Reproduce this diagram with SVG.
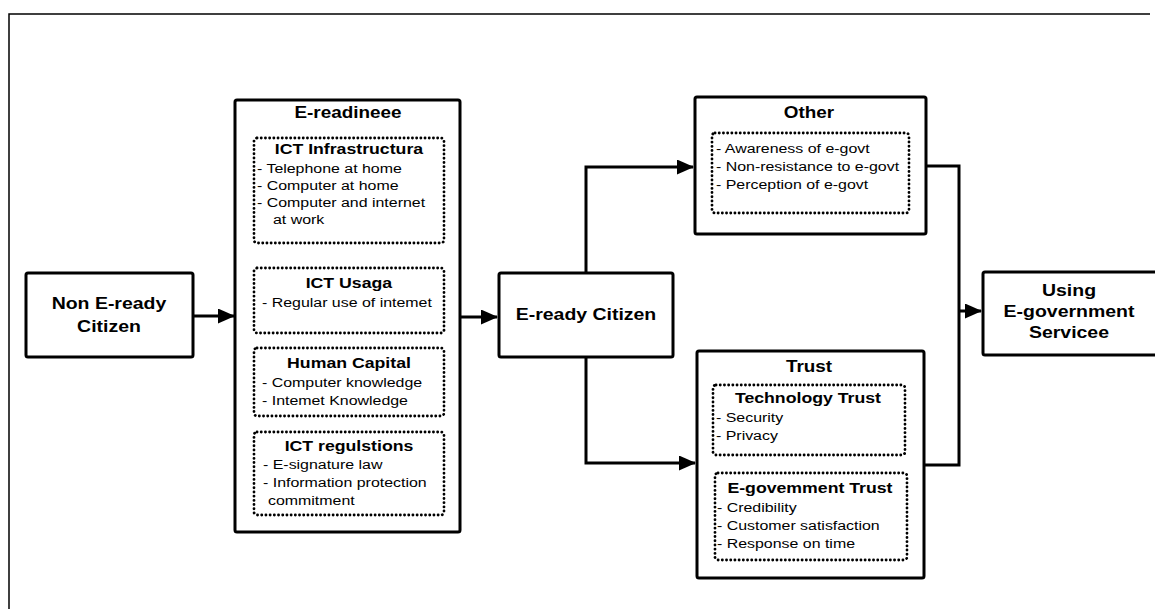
<svg xmlns="http://www.w3.org/2000/svg" width="1155" height="609" viewBox="0 0 1155 609">
  <style>
    text { font-family: "Liberation Sans", Arial, Helvetica, sans-serif; fill: #000; transform-box: fill-box; }
    .c { text-anchor: middle; transform-origin: center; transform: scaleX(1.18); }
    .l { text-anchor: start; transform-origin: left center; transform: scaleX(1.18); }
    .node { font-size: 16.5px; font-weight: bold; }
    .head { font-size: 16px; font-weight: bold; }
    .ttl { font-size: 15px; font-weight: bold; }
    .item { font-size: 13.5px; }
    .box { fill: #fff; stroke: #000; stroke-width: 3; }
    .sub { fill: none; stroke: #000; stroke-width: 2.8; stroke-dasharray: 0.1 4.1; stroke-linecap: round; }
    .wire { fill: none; stroke: #000; stroke-width: 3; }
    .frame { fill: none; stroke: #000; stroke-width: 1.5; }
  </style>
  <defs>
    <marker id="arr" viewBox="0 0 17 15" refX="16" refY="7.5" markerWidth="17" markerHeight="15" markerUnits="userSpaceOnUse" orient="auto">
      <path d="M0,0 L17,7.5 L0,15 z" fill="#000"/>
    </marker>
  </defs>

  <rect width="1155" height="609" fill="#fff"/>
  <!-- outer frame (left and top edges) -->
  <path class="frame" d="M9,609 V14 H1150"/>

  <!-- connectors -->
  <g id="connectors">
    <path class="wire" d="M193,316 H234" marker-end="url(#arr)"/>
    <path class="wire" d="M460,317 H497" marker-end="url(#arr)"/>
    <path class="wire" d="M586,273 V167 H693" marker-end="url(#arr)"/>
    <path class="wire" d="M586,357 V463 H695" marker-end="url(#arr)"/>
    <path class="wire" d="M926,166 H959 V465 H924"/>
    <path class="wire" d="M959,311 H981" marker-end="url(#arr)"/>
  </g>

  <!-- start state -->
  <g id="non-eready">
    <rect class="box" x="26" y="273" width="167" height="84" rx="2"/>
    <text class="c node" x="109" y="309">Non E-ready</text>
    <text class="c node" x="109" y="332">Citizen</text>
  </g>

  <!-- readiness factors -->
  <g id="e-readiness">
    <rect class="box" x="235" y="100" width="225" height="432" rx="2"/>
    <text class="c head" x="348" y="118">E-readineee</text>

    <rect class="sub" x="254" y="138" width="190" height="105" rx="3"/>
    <text class="c ttl" x="349" y="154">ICT Infrastructura</text>
    <text class="l item" x="257" y="173">- Telephone at home</text>
    <text class="l item" x="257" y="190">- Computer at home</text>
    <text class="l item" x="257" y="207">- Computer and internet</text>
    <text class="l item" x="273" y="224">at work</text>

    <rect class="sub" x="254" y="268" width="190" height="65" rx="3"/>
    <text class="c ttl" x="349" y="288">ICT Usaga</text>
    <text class="l item" x="262" y="307">- Regular use of intemet</text>

    <rect class="sub" x="254" y="348" width="190" height="68" rx="3"/>
    <text class="c ttl" x="349" y="368">Human Capital</text>
    <text class="l item" x="262" y="387">- Computer knowledge</text>
    <text class="l item" x="262" y="405">- Intemet Knowledge</text>

    <rect class="sub" x="254" y="432" width="190" height="83" rx="3"/>
    <text class="c ttl" x="349" y="451">ICT regulstions</text>
    <text class="l item" x="263" y="469">- E-signature law</text>
    <text class="l item" x="263" y="487">- Information protection</text>
    <text class="l item" x="268" y="505">commitment</text>
  </g>

  <!-- intermediate state -->
  <g id="eready">
    <rect class="box" x="499" y="273" width="174" height="84" rx="2"/>
    <text class="c node" x="586" y="320">E-ready Citizen</text>
  </g>

  <!-- other factors -->
  <g id="other">
    <rect class="box" x="695" y="97" width="231" height="137" rx="2"/>
    <text class="c head" x="809" y="118">Other</text>
    <rect class="sub" x="712" y="133" width="197" height="80" rx="3"/>
    <text class="l item" x="716" y="153">- Awareness of e-govt</text>
    <text class="l item" x="716" y="171">- Non-resistance to e-govt</text>
    <text class="l item" x="716" y="189">- Perception of e-govt</text>
  </g>

  <!-- trust factors -->
  <g id="trust">
    <rect class="box" x="697" y="351" width="227" height="227" rx="2"/>
    <text class="c head" x="809" y="372">Trust</text>

    <rect class="sub" x="713" y="385" width="192" height="70" rx="3"/>
    <text class="c ttl" x="808" y="403">Technology Trust</text>
    <text class="l item" x="716" y="422">- Security</text>
    <text class="l item" x="716" y="440">- Privacy</text>

    <rect class="sub" x="715" y="473" width="192" height="87" rx="3"/>
    <text class="c ttl" x="810" y="493">E-govemment Trust</text>
    <text class="l item" x="717" y="512">- Credibility</text>
    <text class="l item" x="717" y="530">- Customer satisfaction</text>
    <text class="l item" x="717" y="548">- Response on time</text>
  </g>

  <!-- outcome -->
  <g id="using">
    <rect class="box" x="983" y="272" width="200" height="83" rx="2"/>
    <text class="c node" x="1069" y="296">Using</text>
    <text class="c node" x="1069" y="317">E-government</text>
    <text class="c node" x="1069" y="338">Servicee</text>
  </g>
</svg>
